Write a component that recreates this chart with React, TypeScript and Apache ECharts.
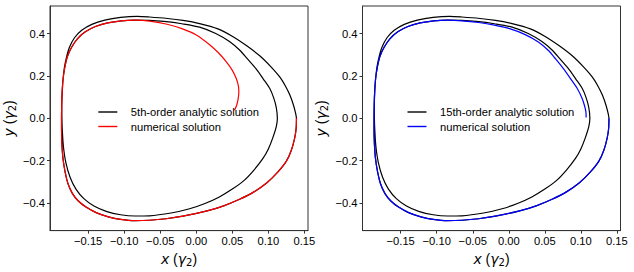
import React, { useEffect, useRef } from "react";
import * as echarts from "echarts";

// ---- data (x, y in units of gamma_2) ----
// outer lower arc, shared start of analytic + numerical trajectories (right -> left)
const outerLowerArc: number[][] = [
  [0.139, 0.0], [0.1385, -0.05], [0.1365, -0.094], [0.132, -0.15], [0.125, -0.203],
  [0.113, -0.255], [0.098, -0.305], [0.08, -0.348], [0.06, -0.383], [0.038, -0.414],
  [0.015, -0.438], [-0.0186, -0.463], [-0.042, -0.475], [-0.065, -0.482], [-0.085, -0.484],
  [-0.105, -0.478], [-0.122, -0.466], [-0.139, -0.446], [-0.153, -0.42], [-0.164, -0.39],
  [-0.172, -0.355], [-0.178, -0.31], [-0.182, -0.255], [-0.185, -0.19], [-0.1865, -0.12],
  [-0.187, -0.05], [-0.187, 0.0],
];
// left side going up to the inner upper arc (shared)
const innerUpperLeft: number[][] = [
  [-0.1868, 0.06], [-0.1862, 0.12], [-0.185, 0.18], [-0.1825, 0.24], [-0.179, 0.29],
  [-0.173, 0.335], [-0.165, 0.375], [-0.154, 0.408], [-0.14, 0.433], [-0.123, 0.45],
  [-0.104, 0.46], [-0.085, 0.463],
];
// analytic solution: inner upper-right arc and inner lower arc
const analyticInner: number[][] = [
  [-0.065, 0.462], [-0.045, 0.457], [-0.02, 0.446], [0.0046, 0.43], [0.027, 0.4],
  [0.046, 0.362], [0.06, 0.322], [0.071, 0.28], [0.0825, 0.235], [0.093, 0.185],
  [0.102, 0.14], [0.1075, 0.095], [0.111, 0.05], [0.1125, 0.0], [0.111, -0.04],
  [0.106, -0.094], [0.1, -0.145], [0.0925, -0.19], [0.08, -0.245], [0.066, -0.295],
  [0.05, -0.335], [0.032, -0.372], [0.012, -0.403], [-0.0093, -0.428], [-0.035, -0.448],
  [-0.065, -0.461], [-0.085, -0.462], [-0.105, -0.456], [-0.125, -0.44], [-0.142, -0.415],
  [-0.156, -0.38], [-0.167, -0.335], [-0.175, -0.28], [-0.181, -0.21], [-0.1845, -0.13],
  [-0.186, -0.05], [-0.1865, 0.0],
];
// analytic solution: outer upper arc back to the start
const analyticOuterUpper: number[][] = [
  [-0.1866, 0.06], [-0.186, 0.12], [-0.185, 0.18], [-0.183, 0.24], [-0.18, 0.29],
  [-0.176, 0.335], [-0.169, 0.38], [-0.159, 0.415], [-0.145, 0.443], [-0.127, 0.463],
  [-0.105, 0.476], [-0.082, 0.481], [-0.065, 0.478], [-0.04, 0.471], [-0.0186, 0.462],
  [0.0046, 0.447], [0.03, 0.422], [0.051, 0.385], [0.07, 0.342], [0.088, 0.295],
  [0.103, 0.245], [0.116, 0.194], [0.124, 0.15], [0.13, 0.108], [0.135, 0.06],
  [0.138, 0.02], [0.139, 0.0],
];
// numerical solution (left panel) end spiral
const numericalTailLeft: number[][] = [
  [-0.065, 0.459], [-0.042, 0.445], [-0.02, 0.423], [0.0, 0.393], [0.0185, 0.347],
  [0.031, 0.308], [0.0417, 0.266], [0.05, 0.226], [0.0556, 0.186], [0.0585, 0.15],
  [0.059, 0.123], [0.058, 0.09], [0.056, 0.061], [0.053, 0.037],
];
// numerical solution (right panel) end spiral
const numericalTailRight: number[][] = [
  [-0.065, 0.46], [-0.042, 0.452], [-0.02, 0.44], [0.0, 0.424], [0.022, 0.396],
  [0.041, 0.36], [0.055, 0.32], [0.065, 0.28], [0.0755, 0.235], [0.086, 0.185],
  [0.095, 0.14], [0.1015, 0.095], [0.105, 0.06], [0.107, 0.03], [0.1073, 0.003],
];

const xTicks = [-0.15, -0.1, -0.05, 0, 0.05, 0.1, 0.15];
const yTicks = [-0.4, -0.2, 0, 0.2, 0.4];
const legendLeft = ["5th-order analytic solution", "numerical solution"];
const legendRight = ["15th-order analytic solution", "numerical solution "];

const FONT = "Liberation Sans";
const fmt = (v: number, d: number) => {
  const s = Math.abs(v).toFixed(d);
  return v < -1e-9 ? "\u2212" + s : s;
};

const nameStyle = {
  fontSize: 14,
  fontFamily: FONT,
  color: "#000",
  rich: {
    i: { fontStyle: "italic", fontFamily: "DejaVu Sans", fontSize: 14, color: "#000" },
    s: { fontSize: 10, fontFamily: "DejaVu Sans", padding: [7, 0, 0, 0], color: "#000" },
  },
};

function makeX(idx: number) {
  return {
    type: "value",
    gridIndex: idx,
    min: -0.203,
    max: 0.155,
    name: "{i|x} ({i|γ}{s|2})",
    nameLocation: "middle",
    nameGap: 18,
    nameTextStyle: nameStyle,
    axisLine: { show: true, onZero: false, lineStyle: { color: "#333", width: 1 } },
    axisTick: { show: true, length: 3, customValues: xTicks, lineStyle: { color: "#333" } },
    axisLabel: {
      customValues: xTicks,
      formatter: (v: number) => fmt(v, 2),
      fontSize: 11.2,
      fontFamily: FONT,
      color: "#000",
      margin: 5,
    },
    splitLine: { show: false },
  };
}
function makeY(idx: number) {
  return {
    type: "value",
    gridIndex: idx,
    min: -0.531,
    max: 0.53,
    name: "{i|y} ({i|γ}{s|2})",
    nameLocation: "middle",
    nameGap: 33,
    nameTextStyle: nameStyle,
    axisLine: { show: true, onZero: false, lineStyle: { color: "#333", width: 1 } },
    axisTick: { show: true, length: 3, customValues: yTicks, lineStyle: { color: "#333" } },
    axisLabel: {
      customValues: yTicks,
      formatter: (v: number) => fmt(v, 1),
      fontSize: 11.2,
      fontFamily: FONT,
      color: "#000",
      margin: 5,
    },
    splitLine: { show: false },
  };
}

function line(name: string, data: number[][], color: string, idx: number) {
  return {
    type: "line",
    name,
    xAxisIndex: idx,
    yAxisIndex: idx,
    data,
    symbol: "none",
    smooth: 0.3,
    lineStyle: { color, width: 1.2 },
    itemStyle: { color },
    silent: true,
  };
}

function makeLegend(data: string[], left: number) {
  return {
    show: true,
    orient: "vertical",
    left,
    top: 106.5,
    padding: 0,
    icon: "rect",
    itemWidth: 19,
    itemHeight: 1.4,
    itemGap: 3.5,
    data,
    selectedMode: false,
    textStyle: { fontSize: 11.2, fontFamily: FONT, color: "#000", padding: [0, 0, 0, 8.5] },
  };
}

export default function App() {
  const ref = useRef<HTMLDivElement>(null);
  useEffect(() => {
    if (!ref.current) return;
    const chart = echarts.init(ref.current, null, { renderer: "svg" });
    const black = [...outerLowerArc, ...innerUpperLeft, ...analyticInner, ...analyticOuterUpper];
    const red = [...outerLowerArc, ...innerUpperLeft, ...numericalTailLeft];
    const blue = [...outerLowerArc, ...innerUpperLeft, ...numericalTailRight];
    chart.setOption({
      animation: false,
      backgroundColor: "#fff",
      grid: [
        { left: 50, top: 6, width: 258, height: 226, show: true, borderColor: "#333", borderWidth: 1 },
        { left: 362.5, top: 6, width: 258, height: 226, show: true, borderColor: "#333", borderWidth: 1 },
      ],
      xAxis: [makeX(0), makeX(1)],
      yAxis: [makeY(0), makeY(1)],
      legend: [makeLegend(legendLeft, 98.3), makeLegend(legendRight, 407.5)],
      series: [
        line(legendLeft[0], black, "#000000", 0),
        line(legendLeft[1], red, "#ff0000", 0),
        line(legendRight[0], black, "#000000", 1),
        line(legendRight[1], blue, "#0000ff", 1),
      ],
    });
    return () => chart.dispose();
  }, []);
  return (
    <div
      ref={ref}
      style={{ position: "fixed", left: 0, top: 0, width: 634, height: 272 }}
    />
  );
}
